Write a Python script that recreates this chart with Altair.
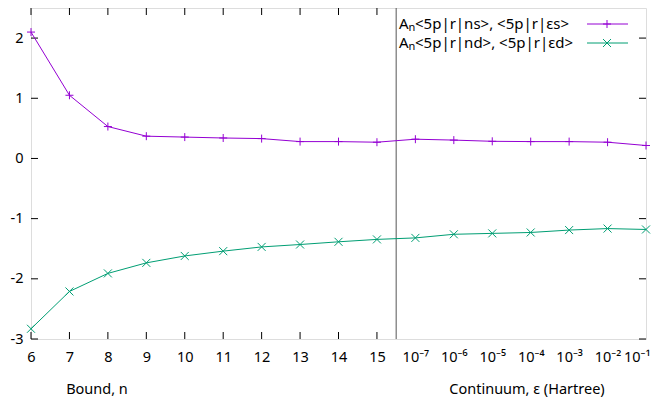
import altair as alt
import pandas as pd

# ---- data ----
x_pos = list(range(6, 23))
x_labels = ["6", "7", "8", "9", "10", "11", "12", "13", "14", "15",
            "10⁻⁷", "10⁻⁶", "10⁻⁵", "10⁻⁴", "10⁻³", "10⁻²", "10⁻¹"]
s_vals = [2.1, 1.05, 0.53, 0.37, 0.355, 0.34, 0.33, 0.28, 0.28, 0.27,
          0.32, 0.305, 0.285, 0.28, 0.28, 0.27, 0.215]
d_vals = [-2.83, -2.21, -1.91, -1.735, -1.62, -1.54, -1.47, -1.43, -1.385, -1.345,
          -1.32, -1.26, -1.245, -1.23, -1.19, -1.165, -1.18]
series_names = ["Aₙ<5p|r|ns>, <5p|r|εs>", "Aₙ<5p|r|nd>, <5p|r|εd>"]
legend_main = ["A", "A"]
legend_sub = ["n", "n"]
legend_rest = ["<5p|r|ns>, <5p|r|εs>", "<5p|r|nd>, <5p|r|εd>"]
colors = ["#9400D3", "#009E73"]
y_ticks = [-3, -2, -1, 0, 1, 2]
x_ticks_bound = list(range(6, 16))
separator = 15.5

W, H = 615, 331
FONT = "Noto Sans"
FS = 14.5
LFS = 15
PLUS = "M-1,0L1,0M0,-1L0,1"
CROSS = "M-1,-1L1,1M-1,1L1,-1"

rows = []
for i, x in enumerate(x_pos):
    rows.append({"x": x, "y": s_vals[i], "s": series_names[0]})
    rows.append({"x": x, "y": d_vals[i], "s": series_names[1]})
df = pd.DataFrame(rows)

xs = alt.Scale(domain=[6, 22], nice=False, zero=False)
ys = alt.Scale(domain=[-3, 2.5], nice=False, zero=False)
cs = alt.Scale(domain=series_names, range=colors)
ss = alt.Scale(domain=series_names, range=[PLUS, CROSS])

label_arr = "[" + ",".join("'" + l + "'" for l in x_labels) + "]"

xaxis = alt.Axis(values=x_pos, labelExpr=label_arr + "[datum.value-6]", ticks=False, domain=False,
                 grid=False, labelPadding=11, labelFontSize=FS, labelColor="black", title=None,
                 labelFont=FONT, labelFlush=False, labelOverlap=False, labelBound=False,
                 labelAlign={"condition": {"test": "datum.value >= 22", "value": "right"}, "value": "center"},
                 labelOffset={"condition": {"test": "datum.value >= 22", "value": 4}, "value": 0})
yaxis = alt.Axis(values=y_ticks, labelExpr="'' + datum.value", ticks=False, domain=False, grid=False,
                 labelPadding=8, labelFontSize=FS, labelColor="black", title=None, labelFont=FONT,
                 labelOverlap=False)

X = lambda f="x:Q": alt.X(f, scale=xs, axis=xaxis)
Y = lambda f="y:Q": alt.Y(f, scale=ys, axis=yaxis)

base = alt.Chart(df)
lines = base.mark_line(strokeWidth=1).encode(
    x=X(), y=Y(),
    color=alt.Color("s:N", scale=cs, legend=None),
)
points = base.mark_point(filled=False, strokeWidth=1, size=64, opacity=1).encode(
    x=X(), y=Y(),
    color=alt.Color("s:N", scale=cs, legend=None),
    shape=alt.Shape("s:N", scale=ss, legend=None),
)

sep = alt.Chart(pd.DataFrame({"x": [separator]})).mark_rule(color="#555555", strokeWidth=1).encode(
    x=X()
)

xt = pd.DataFrame({"x": x_ticks_bound})
xt_bot = alt.Chart(xt).mark_rule(color="black", strokeWidth=1).encode(
    x=X(), y=alt.value(H), y2=alt.value(H - 7))
xt_top = alt.Chart(xt).mark_rule(color="black", strokeWidth=1).encode(
    x=X(), y=alt.value(0), y2=alt.value(7))
yt = pd.DataFrame({"y": y_ticks})
yt_left = alt.Chart(yt).mark_rule(color="black", strokeWidth=1).encode(
    y=Y(), x=alt.value(0), x2=alt.value(7))
yt_right = alt.Chart(yt).mark_rule(color="black", strokeWidth=1).encode(
    y=Y(), x=alt.value(W), x2=alt.value(W - 7))

titles = pd.DataFrame({"t": ["Bound, n", "Continuum, ε (Hartree)"], "px": [66, 496]})
title_marks = alt.Chart(titles).mark_text(fontSize=FS, font=FONT, color="black", align="center",
                                          baseline="middle").encode(
    text="t:N", x=alt.X("px:Q", scale=None, axis=None), y=alt.value(H + 51))

leg = pd.DataFrame({"s": series_names, "m": legend_main, "sub": legend_sub, "r": legend_rest,
                    "ly": [16, 35], "lys": [19.5, 38.5]})
leg_a = alt.Chart(leg).mark_text(fontSize=LFS, font=FONT, color="black", align="left",
                                 baseline="middle").encode(
    text="m:N", x=alt.value(368), y=alt.Y("ly:Q", scale=None, axis=None))
leg_n = alt.Chart(leg).mark_text(fontSize=11, font=FONT, color="black", align="left",
                                 baseline="middle").encode(
    text="sub:N", x=alt.value(377.5), y=alt.Y("lys:Q", scale=None, axis=None))
leg_r = alt.Chart(leg).mark_text(fontSize=LFS, font=FONT, color="black", align="left",
                                 baseline="middle").encode(
    text="r:N", x=alt.value(384), y=alt.Y("ly:Q", scale=None, axis=None))
leg_line = alt.Chart(leg).mark_rule(strokeWidth=1).encode(
    x=alt.value(556), x2=alt.value(597), y=alt.Y("ly:Q", scale=None, axis=None),
    color=alt.Color("s:N", scale=cs, legend=None))
leg_pt = alt.Chart(leg).mark_point(filled=False, strokeWidth=1, size=64, opacity=1).encode(
    x=alt.value(576), y=alt.Y("ly:Q", scale=None, axis=None),
    color=alt.Color("s:N", scale=cs, legend=None),
    shape=alt.Shape("s:N", scale=ss, legend=None))

chart = alt.layer(
    sep, xt_bot, xt_top, yt_left, yt_right, lines, points, title_marks,
    leg_a, leg_n, leg_r, leg_line, leg_pt
).properties(
    width=W, height=H,
    autosize=alt.AutoSizeParams(type="none"),
    padding={"left": 23, "top": 0, "right": 5, "bottom": 60},
).configure_view(stroke="black", strokeWidth=1).configure(background="white"
).configure_axis(labelOverlap=False)

chart.save("out.html", embed_options={"renderer": "svg", "actions": False})
